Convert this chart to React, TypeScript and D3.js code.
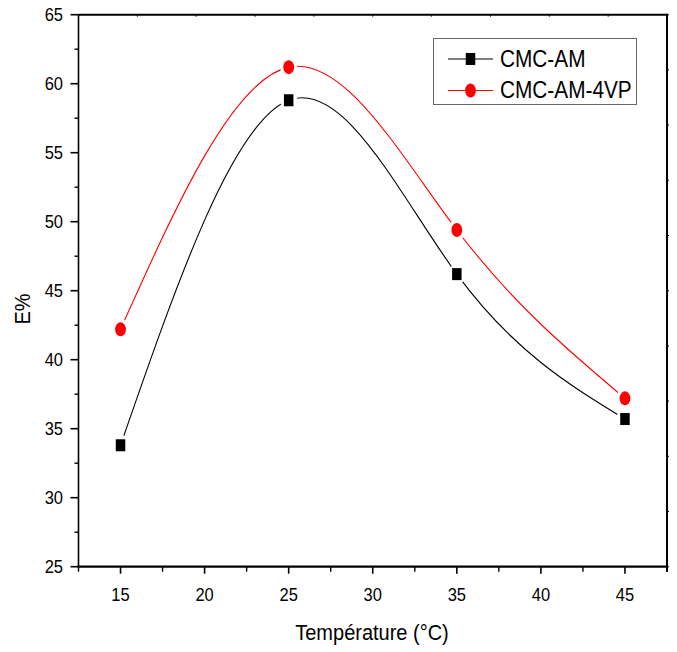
import React from "react";
import * as d3 from "d3";

const temperatures = [15, 25, 35, 45];
const cmcAM = [33.8, 58.8, 46.2, 35.7];
const cmcAM4VP = [42.2, 61.2, 49.4, 37.2];
const xTicks = [15, 20, 25, 30, 35, 40, 45];
const xMinor = [12.5, 17.5, 22.5, 27.5, 32.5, 37.5, 42.5, 47.5];
const yTicks = [25, 30, 35, 40, 45, 50, 55, 60, 65];
const yMinor = [27.5, 32.5, 37.5, 42.5, 47.5, 52.5, 57.5, 62.5];
const seriesNames = ["CMC-AM", "CMC-AM-4VP"];

const W = 677;
const H = 652;
const L = 78.5, R = 667, T = 14.7, B = 566.7;
const FONT = "'Liberation Sans', Arial, sans-serif";
const SY = 1.13;

function STxt({ x, y, size, anchor = "middle", children, rotate = 0 }: any) {
  return (
    <text
      transform={`translate(${x},${y}) rotate(${rotate}) scale(1,${SY})`}
      fontSize={size}
      fontFamily={FONT}
      textAnchor={anchor}
      fill="#000"
    >
      {children}
    </text>
  );
}

export default function App() {
  const x = d3.scaleLinear().domain([12.5, 47.5]).range([L, R]);
  const y = d3.scaleLinear().domain([25, 65]).range([B, T]);
  const line = d3
    .line<[number, number]>()
    .x((d) => x(d[0]))
    .y((d) => y(d[1]))
    .curve(d3.curveNatural);
  const blackPts = temperatures.map((t, i) => [t, cmcAM[i]] as [number, number]);
  const redPts = temperatures.map((t, i) => [t, cmcAM4VP[i]] as [number, number]);

  const topTicks = d3.range(0, 11).map((i) => L + ((R - L) * i) / 10);
  const rightTicks = d3.range(0, 11).map((i) => T + ((B - T) * i) / 10);

  const square = (cx: number, cy: number, key: any) => (
    <rect key={key} x={cx - 4.75} y={cy - 6} width={9.5} height={12} fill="#000" />
  );
  const dot = (cx: number, cy: number, key: any) => (
    <ellipse key={key} cx={cx} cy={cy} rx={5.4} ry={7} fill="#ff0000" />
  );
  const halo = (cx: number, cy: number, key: any) => (
    <ellipse key={key} cx={cx} cy={cy} rx={8.5} ry={10.5} fill="#fff" />
  );

  return (
    <svg width={W} height={H} style={{ position: "absolute", left: 0, top: 0, background: "#fff" }}>
      <rect x={0} y={0} width={W} height={H} fill="#fff" />
      {/* series black */}
      <path d={line(blackPts) || ""} fill="none" stroke="#000" strokeWidth={1.1} />
      {blackPts.map((p, i) => halo(x(p[0]), y(p[1]), "hb" + i))}
      {blackPts.map((p, i) => square(x(p[0]), y(p[1]), "sb" + i))}
      {/* series red */}
      <path d={line(redPts) || ""} fill="none" stroke="#ff0000" strokeWidth={1.1} />
      {redPts.map((p, i) => halo(x(p[0]), y(p[1]), "hr" + i))}
      {redPts.map((p, i) => dot(x(p[0]), y(p[1]), "dr" + i))}

      {/* frame */}
      <line x1={L} y1={T} x2={R} y2={T} stroke="#000" strokeWidth={2} />
      <line x1={R} y1={T - 1} x2={R} y2={B + 5} stroke="#000" strokeWidth={2} />
      <line x1={L} y1={T} x2={L} y2={B} stroke="#000" strokeWidth={1.6} />
      <line x1={L - 1} y1={B} x2={R + 1} y2={B} stroke="#000" strokeWidth={2.2} />
      {topTicks.map((tx, i) => (
        <line key={"tt" + i} x1={tx} y1={T} x2={tx} y2={T + 2} stroke="#000" strokeWidth={1} />
      ))}
      {rightTicks.map((ty, i) => (
        <line key={"rt" + i} x1={R} y1={ty} x2={R + 2} y2={ty} stroke="#000" strokeWidth={1} />
      ))}

      {/* x ticks */}
      {xTicks.map((t) => (
        <g key={"xt" + t}>
          <line x1={x(t)} y1={B} x2={x(t)} y2={B + 7} stroke="#000" strokeWidth={1.6} />
          <STxt x={x(t)} y={601} size={16.5}>{t}</STxt>
        </g>
      ))}
      {xMinor.map((t) => (
        <line key={"xm" + t} x1={x(t)} y1={B} x2={x(t)} y2={B + 5} stroke="#000" strokeWidth={1.4} />
      ))}
      {/* y ticks */}
      {yTicks.map((t) => (
        <g key={"yt" + t}>
          <line x1={L - 8} y1={y(t)} x2={L} y2={y(t)} stroke="#000" strokeWidth={1.6} />
          <STxt x={63} y={y(t) + 6.5} size={16.5} anchor="end">{t}</STxt>
        </g>
      ))}
      {yMinor.map((t) => (
        <line key={"ym" + t} x1={L - 4} y1={y(t)} x2={L} y2={y(t)} stroke="#000" strokeWidth={1.4} />
      ))}

      {/* axis titles */}
      <STxt x={372} y={640} size={20}>Température (°C)</STxt>
      <STxt x={30} y={309} size={20} rotate={-90}>E%</STxt>

      {/* legend */}
      <rect x={433.5} y={38.5} width={203} height={66} fill="#fff" stroke="#666" strokeWidth={1} />
      <line x1={448} y1={59} x2={493} y2={59} stroke="#000" strokeWidth={1.1} />
      {square(470.5, 59, "ls")}
      <STxt x={500} y={66.5} size={20.8} anchor="start">{seriesNames[0]}</STxt>
      <line x1={448} y1={90.5} x2={493} y2={90.5} stroke="#ff0000" strokeWidth={1.1} />
      {dot(470.5, 90.5, "ld")}
      <STxt x={500} y={98} size={20.8} anchor="start">{seriesNames[1]}</STxt>
    </svg>
  );
}
